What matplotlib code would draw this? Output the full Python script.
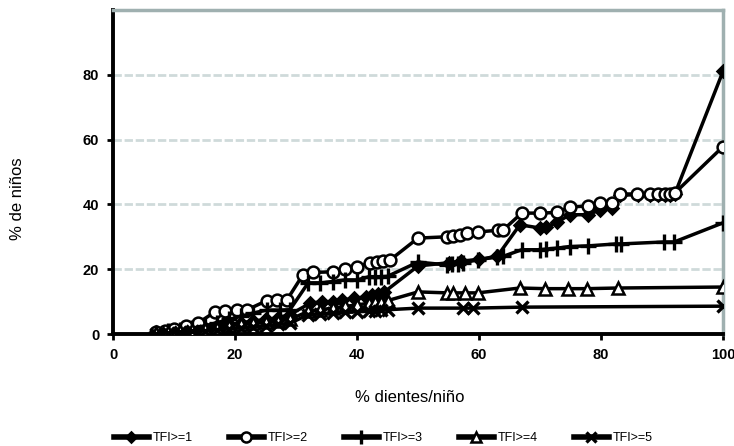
import matplotlib
matplotlib.use("Agg")
import matplotlib.pyplot as plt

plt.rcParams['font.family'] = ['Liberation Sans', 'DejaVu Sans']

# TFI>=1 (diamonds)
x1 = [7, 9, 11, 13, 15, 17, 19, 21, 23, 25, 27, 29, 32.3, 34.3, 36.1, 37.6, 39.5, 41.5, 42.5, 43.5, 44.5,
      50, 55, 57, 60, 63, 66.7, 70, 71, 72.8, 74.9, 77.9, 79.8, 81.8, 83.1, 86, 88, 89.3, 90.5, 91.3, 92.1, 100]
y1 = [0.3, 0.6, 1, 1.5, 2, 2.5, 3, 3.5, 4, 4.5, 5, 6, 9.5, 10, 10, 10.5, 11, 11.5, 12, 12.5, 13,
      21, 22, 22.5, 23, 24, 33.7, 32.7, 33, 34.5, 36.8, 36.8, 38.3, 38.9, 42.8, 43, 43, 43, 43, 43, 43.2, 81]

# TFI>=2 (circles)
x2 = [7, 8.5, 10, 12, 14, 16.7, 18.4, 20.3, 22, 25.2, 26.9, 28.5, 31.1, 32.8, 36, 38, 40, 42.1, 43.3, 44.3, 45.4,
      50, 54.8, 55.7, 56.9, 58, 59.8, 63.1, 63.9, 67, 70, 72.8, 74.9, 77.9, 79.8, 81.8, 83.1, 85.9, 88, 89.3,
      90.5, 91.3, 92.1, 100]
y2 = [0.5, 1, 1.5, 2.5, 3.5, 6.8, 7.2, 7.4, 7.5, 10.3, 10.5, 10.5, 18.2, 19, 19.2, 20, 20.7, 22, 22.2, 22.4, 22.8,
      29.6, 30, 30.2, 30.6, 31.2, 31.5, 32, 32, 37.3, 37.3, 37.5, 39.2, 39.5, 40.5, 40.5, 43.2, 43.2, 43.2, 43.2,
      43.2, 43.2, 43.5, 57.8]

# TFI>=3 (plus)
x3 = [7, 9, 11, 13, 15, 17, 19, 21, 23, 25.2, 27.4, 29, 32, 34, 36, 38, 40, 42, 43, 44, 45,
      50, 54.8, 55.6, 56.5, 57.4, 59.8, 63, 64, 67, 70, 71, 72.8, 74.9, 77.9, 82.5, 83.3, 90.3, 92, 100]
y3 = [0.3, 0.8, 1.2, 1.8, 2.5, 3.5, 4.5, 5.5, 6.5, 7.4, 7.4, 7.5, 15.8, 15.8, 16.2, 16.7, 16.7, 17.7, 17.7, 17.7, 17.8,
      22.2, 21.3, 21.5, 21.7, 22, 22.9, 23.8, 24, 26, 26, 26.2, 26.5, 27, 27.2, 27.8, 27.8, 28.4, 28.4, 34.3]

# TFI>=4 (triangles)
x4 = [7, 9, 11, 13, 15, 17, 19, 21, 23, 25, 27, 29, 32, 34, 36, 38, 40, 42, 43, 44, 45,
      50, 54.8, 55.7, 57.7, 59.8, 66.7, 70.8, 74.6, 77.7, 82.8, 100]
y4 = [0.2, 0.5, 0.8, 1.2, 1.6, 2, 2.5, 3, 3.3, 3.6, 4, 4.5, 7, 7.5, 8, 8.5, 9, 9.5, 10, 10, 10.3,
      13, 12.7, 12.7, 12.7, 12.7, 14.2, 14, 14, 14, 14.2, 14.5]

# TFI>=5 (x)
x5 = [7, 9, 11, 13, 15, 17, 19, 21, 23, 25, 27, 29, 32, 34, 36, 38, 40, 42, 43, 44, 45,
      50, 57.4, 59, 67, 100]
y5 = [0.1, 0.3, 0.5, 0.8, 1, 1.3, 1.6, 2, 2.3, 2.6, 3, 3.3, 6, 6.3, 6.5, 6.7, 6.9, 7, 7.2, 7.3, 7.5,
      8, 8, 8, 8.3, 8.6]

labels = ["TFI>=1", "TFI>=2", "TFI>=3", "TFI>=4", "TFI>=5"]
xticks = [0, 20, 40, 60, 80, 100]
yticks = [0, 20, 40, 60, 80]

fig = plt.figure(figsize=(7.34, 4.46), dpi=100)
ax = fig.add_axes([0.154, 0.251, 0.831, 0.727])

lw = 2.5
mew = 1.8
ax.plot(x1, y1, color='black', lw=lw, marker='D', ms=6.5, mfc='black', mec='black', mew=mew, label=labels[0], zorder=3)
ax.plot(x2, y2, color='black', lw=lw, marker='o', ms=8.5, mfc='white', mec='black', mew=mew, label=labels[1], zorder=4)
ax.plot(x3, y3, color='black', lw=lw, marker='+', ms=12, mec='black', mew=2.4, label=labels[2], zorder=4)
ax.plot(x4, y4, color='black', lw=lw, marker='^', ms=8.5, mfc='white', mec='black', mew=mew, label=labels[3], zorder=4)
ax.plot(x5, y5, color='black', lw=lw, marker='x', ms=9, mec='black', mew=2.4, label=labels[4], zorder=4)

ax.set_xlim(0, 100)
ax.set_ylim(0, 100)
ax.set_xticks(xticks)
ax.set_yticks(yticks)
ax.set_xticklabels([str(v) for v in xticks], fontweight='bold', fontsize=10.5)
ax.set_yticklabels([str(v) for v in yticks], fontweight='bold', fontsize=10.5)
ax.tick_params(axis='both', direction='out', length=4, width=2, pad=6)

ax.grid(axis='y', color='#cfdada', linestyle=(0, (3, 1)), lw=2)
ax.set_axisbelow(True)
for s in ['left', 'bottom']:
    ax.spines[s].set_linewidth(2.8)
    ax.spines[s].set_color('black')
for s in ['top', 'right']:
    ax.spines[s].set_linewidth(2.5)
    ax.spines[s].set_color('#9fb0b0')

ax.set_xlabel('% dientes/niño', fontsize=12)
ax.set_ylabel('% de niños', fontsize=12)
ax.xaxis.set_label_coords(0.487, -0.197, transform=ax.transAxes)
ax.yaxis.set_label_coords(-0.156, 0.417, transform=ax.transAxes)
ax.xaxis.label.set_va('center')
ax.yaxis.label.set_va('center')

leg = fig.legend(loc='center', bbox_to_anchor=(0.522, 0.018), ncol=5, frameon=False,
                 fontsize=9, handlelength=2.8, columnspacing=2.9, handletextpad=0.3, markerscale=0.85)
for h in leg.legend_handles:
    h.set_linewidth(4)

fig.savefig('out.png', dpi=100)
